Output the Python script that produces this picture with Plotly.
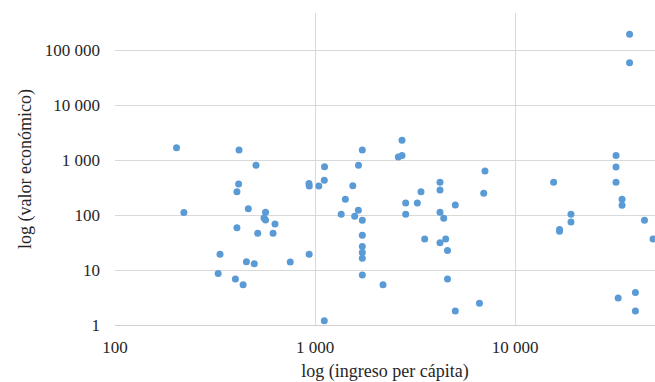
import plotly.graph_objects as go

# ingreso per cápita (x) and valor económico (y)
ingreso = [203, 221, 417, 507, 415, 407, 464, 566, 556, 566, 631, 407, 517, 617,
           335, 454, 497, 328, 400, 437, 752, 935, 933, 936, 1045, 1116, 1113, 1113,
           1724, 1650, 1545, 1418, 1647, 1352, 1579, 1724, 1724, 1724, 1724, 1724, 1724,
           2188, 2723, 2610, 2723, 2841, 3248, 3388, 4217, 4217, 5029, 7079, 6974,
           2841, 4217, 4401, 3535, 4217, 4503, 4597, 4597, 5029, 6644,
           15600, 16700, 16700, 19050, 19050, 32000, 32000, 32000, 34300, 34300,
           37400, 37400, 44400, 49000, 32800, 40000, 40000]
valor = [1700, 112, 1540, 815, 370, 267, 131, 113, 89, 82, 69, 59, 47, 47,
         19.5, 14.2, 13.1, 8.7, 6.9, 5.4, 14, 19.5, 378, 340, 340, 765, 432, 1.2,
         1540, 811, 343, 195, 123, 104, 96, 81, 43, 27, 21, 16.5, 8.1,
         5.4, 2310, 1150, 1220, 167, 167, 268, 397, 288, 153, 638, 250,
         104, 113, 88, 37, 31.6, 37, 22.8, 6.9, 1.8, 2.5,
         397, 55, 51, 104, 75, 1220, 755, 397, 196, 152,
         197000, 60000, 81, 37, 3.1, 3.9, 1.8]

x_ticks = [100, 1000, 10000]
x_ticklabels = ["100", "1 000", "10 000"]
y_ticks = [1, 10, 100, 1000, 10000, 100000]
y_ticklabels = ["1", "10", "100", "1 000", "10 000", "100 000"]

FONT = "Liberation Serif"
TXT = "#262626"

fig = go.Figure(go.Scatter(
    x=ingreso, y=valor, mode="markers",
    marker=dict(color="#5b9bd5", size=7, line=dict(width=0)),
    showlegend=False,
))

fig.update_layout(
    width=655, height=382,
    margin=dict(l=115, r=0, t=13, b=57),
    paper_bgcolor="white", plot_bgcolor="white",
    font=dict(family=FONT, color=TXT, size=17),
)
fig.update_xaxes(
    type="log", range=[2, 4.7],
    tickvals=x_ticks, ticktext=x_ticklabels,
    showgrid=True, gridcolor="#d9d9d9", gridwidth=1,
    showline=True, linecolor="#d0d0d0", linewidth=1,
    ticks="", ticklabelstandoff=7,
    tickfont=dict(family=FONT, size=17, color=TXT),
    title=dict(text="log (ingreso per cápita)", font=dict(family=FONT, size=18, color=TXT), standoff=7),
    zeroline=False,
)
fig.update_yaxes(
    type="log", range=[0, 5.683],
    tickvals=y_ticks, ticktext=y_ticklabels,
    showgrid=True, gridcolor="#d9d9d9", gridwidth=1,
    showline=False,
    ticks="", ticklabelstandoff=14,
    tickfont=dict(family=FONT, size=17, color=TXT),
    title=dict(text="log (valor económico)", font=dict(family=FONT, size=18, color=TXT), standoff=8),
    zeroline=False,
)

fig.write_html("out.html")
